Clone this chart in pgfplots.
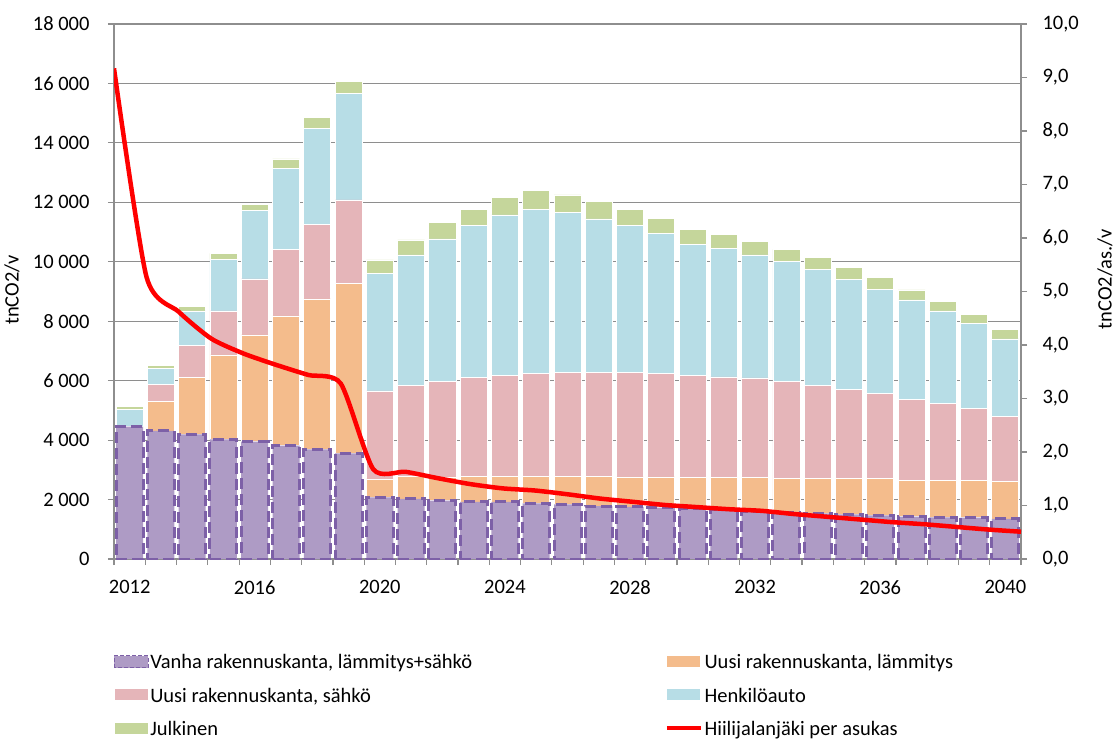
\documentclass[border=0pt]{standalone}
\usepackage{fontspec}
\setmainfont{Carlito}
\usepackage{pgfplots}
\pgfplotsset{compat=1.18}
\usepackage{pgfplotstable}

\definecolor{cpurple}{HTML}{AE9BC5}
\definecolor{cpurpleedge}{HTML}{7D60A7}
\definecolor{corange}{HTML}{F4BC8C}
\definecolor{cpink}{HTML}{E5B5B9}
\definecolor{cblue}{HTML}{B7DDE6}
\definecolor{cgreen}{HTML}{C5D69B}
\definecolor{cgrid}{HTML}{8E8E8E}
\definecolor{cred}{HTML}{FF0000}

\pgfplotsset{
  legbar/.style={legend image code/.code={\draw[##1] (0pt,-5pt) rectangle (34pt,7pt);}},
  legpurple/.style={legend image code/.code={\draw[##1, line width=1.2pt, dash pattern=on 4pt off 2pt] (0pt,-5pt) rectangle (34pt,7pt);}},
  legline/.style={legend image code/.code={\draw[##1] (0pt,1pt) -- (34pt,1pt);}},
}

\pgfplotstableread{
i purple orange pink blue green
0 4450 0 0 585 90
1 4307 986 586 538 88
2 4196 1905 1077 1167 145
3 4028 2837 1480 1740 202
4 3947 3591 1884 2298 216
5 3813 4364 2244 2726 313
6 3691 5058 2514 3230 370
7 3557 5720 2803 3591 390
8 2076 616 2961 3961 447
9 2019 751 3062 4398 504
10 1962 798 3206 4802 549
11 1918 852 3331 5115 551
12 1918 852 3398 5408 595
13 1874 896 3465 5532 626
14 1840 930 3499 5401 579
15 1783 987 3511 5160 582
16 1750 1010 3521 4948 538
17 1727 1033 3475 4725 492
18 1700 1049 3431 4410 491
19 1649 1100 3375 4331 458
20 1615 1134 3342 4139 461
21 1570 1133 3263 4038 417
22 1537 1166 3129 3917 396
23 1503 1200 2994 3715 408
24 1469 1234 2860 3499 404
25 1424 1234 2716 3341 337
26 1402 1256 2581 3106 327
27 1391 1245 2422 2873 290
28 1346 1268 2174 2615 327
}\bars

\pgfplotstableread{
i v
0 9.17
1 5.28
2 4.62
3 4.12
4 3.84
5 3.63
6 3.44
7 3.28
8 1.68
9 1.63
10 1.51
11 1.40
12 1.32
13 1.28
14 1.21
15 1.13
16 1.07
17 1.01
18 0.97
19 0.93
20 0.90
21 0.84
22 0.79
23 0.74
24 0.69
25 0.65
26 0.60
27 0.55
28 0.51
}\footprint

\newcommand{\fs}{\fontsize{20.5}{24.6}\selectfont}

\begin{document}
\begin{tikzpicture}
\useasboundingbox (0pt,0pt) rectangle (1116pt,740pt);
\begin{axis}[
  at={(114pt,181pt)}, anchor=south west,
  scale only axis, width=907pt, height=535pt,
  ybar stacked, bar width=27pt,
  xmin=-0.5, xmax=28.5, ymin=0, ymax=18000,
  axis x line*=bottom, axis y line*=left,
  axis line style={cgrid, line width=1.2pt},
  ymajorgrids, grid style={cgrid, line width=1.2pt},
  xtick={0,4,...,28},
  xticklabels={2012,2016,2020,2024,2028,2032,2036,2040},
  minor xtick={-0.5,0.5,...,28.5},
  every major x tick/.append style={draw=none},
  every minor x tick/.append style={cgrid, line width=1.2pt},
  every major y tick/.append style={cgrid, line width=1.2pt},
  tick align=outside,
  major tick length=6pt, minor tick length=6pt,
  ytick={0,2000,...,18000},
  scaled y ticks=false,
  /pgf/number format/1000 sep={\ },
  /pgf/number format/assume math mode=true,
  every tick label/.append style={font=\fs, text=black},
  yticklabel style={xshift=-15pt},
  xticklabel style={yshift=-12pt},
  ylabel={tnCO2/v},
  every axis y label/.style={at={(axis description cs:-0.1125,0.503)}, rotate=90, anchor=center, font=\fs},
  legend columns=2,
  legend cell align=left,
  legend style={at={(axis description cs:-0.004,-0.172)}, anchor=north west,
    draw=none, fill=none, font=\fs, row sep=14.5pt,
    /tikz/every even column/.append style={column sep=191pt},
    nodes={inner sep=1.5pt}},
  legbar,
]
\addplot+[ybar, fill=cpurple, draw=cpurpleedge, line width=3pt, dash pattern=on 11pt off 5pt, legpurple]
  table[x=i, y=purple] {\bars};
\addlegendentry{Vanha rakennuskanta, lämmitys+sähkö}
\addplot+[ybar, fill=corange, draw=white, line width=0.8pt, legbar] table[x=i, y=orange] {\bars};
\addlegendentry{Uusi rakennuskanta, lämmitys}
\addplot+[ybar, fill=cpink, draw=white, line width=0.8pt, legbar] table[x=i, y=pink] {\bars};
\addlegendentry{Uusi rakennuskanta, sähkö}
\addplot+[ybar, fill=cblue, draw=white, line width=0.8pt, legbar] table[x=i, y=blue] {\bars};
\addlegendentry{Henkilöauto}
\addplot+[ybar, fill=cgreen, draw=white, line width=0.8pt, legbar] table[x=i, y=green] {\bars};
\addlegendentry{Julkinen}
\addlegendimage{cred, line width=4.5pt, legline}
\addlegendentry{Hiilijalanjäki per asukas}
\end{axis}
\begin{axis}[
  at={(114pt,181pt)}, anchor=south west,
  scale only axis, width=907pt, height=535pt,
  xmin=0, xmax=28, ymin=0, ymax=10,
  axis x line=none, axis y line*=right,
  axis line style={cgrid, line width=1.2pt},
  ytick={0,1,...,10},
  tick align=outside, major tick length=6pt,
  every major y tick/.append style={cgrid, line width=1.2pt},
  /pgf/number format/fixed,
  /pgf/number format/fixed zerofill,
  /pgf/number format/precision=1,
  /pgf/number format/use comma,
  /pgf/number format/assume math mode=true,
  every tick label/.append style={font=\fs, text=black},
  yticklabel style={xshift=12pt},
  ylabel={tnCO2/as./v},
  every axis y label/.style={at={(axis description cs:1.0926,0.523)}, rotate=90, anchor=center, font=\fs},
]
\addplot[cred, line width=4.5pt, smooth, tension=0.4, no marks] table[x=i, y=v] {\footprint};
\end{axis}
\end{tikzpicture}
\end{document}
